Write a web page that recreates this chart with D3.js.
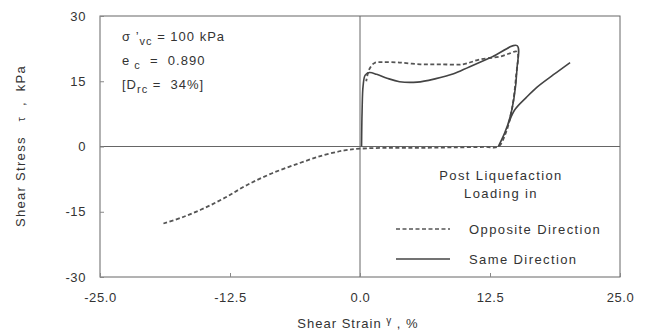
<!DOCTYPE html>
<html>
<head>
<meta charset="utf-8">
<script src="https://cdn.jsdelivr.net/npm/d3@7"></script>
<style>
  body { margin: 0; background: #fff; }
  svg text { font-family: "Liberation Sans", Arial, sans-serif; fill: #333; white-space: pre; }
</style>
</head>
<body>
<svg id="chart"></svg>
<script>
// Axis ticks
const xTicks = [-25, -12.5, 0, 12.5, 25];
const yTicks = [-30, -15, 0, 15, 30];

// Opposite direction (dashed): [strain %, stress kPa]
const oppositeDir = [
  [-18.9, -17.7], [-17, -16.2], [-15, -14.2], [-13, -11.8], [-10.9, -8.9],
  [-8.5, -6.2], [-5.8, -3.8], [-3.5, -2], [-1.5, -0.9], [0, -0.5],
  [3, -0.3], [6, -0.3], [9, -0.2], [12, -0.1], [13.3, 0], [14, 3],
  [14.6, 8.5], [15, 16], [15.1, 21.8], [14.4, 21.4], [13.5, 20.7],
  [11.5, 20], [9.9, 18.9], [7.7, 18.9], [5.8, 18.9], [3.8, 19.3],
  [2.2, 19.4], [1.4, 19.2], [0.9, 17.8], [0.6, 15]
];

// Same direction (solid)
const sameDir = [
  [0.15, 0], [0.2, 8], [0.3, 14], [0.5, 16.4], [0.9, 17], [1.6, 16.6],
  [2.6, 15.7], [3.8, 14.9], [5.5, 14.8], [7.3, 15.6], [9, 16.7],
  [10.5, 18.3], [12.7, 20.6], [15.1, 23.2], [15.1, 18], [14.8, 11],
  [14.4, 6.5], [13.9, 3], [13.3, 0], [13.8, 2.5], [14.3, 5.5],
  [14.9, 8.5], [16, 11.3], [17, 13.6], [18.6, 16.5], [20.2, 19.3]
];

const width = 648, height = 335;
const margin = { left: 100, right: 28, top: 16, bottom: 58 };

const svg = d3.select('#chart').attr('width', width).attr('height', height);

const x = d3.scaleLinear().domain([-25, 25]).range([margin.left, width - margin.right]);
const y = d3.scaleLinear().domain([-30, 30]).range([height - margin.bottom, margin.top]);

// Frame
svg.append('rect')
  .attr('x', x(-25)).attr('y', y(30))
  .attr('width', x(25) - x(-25)).attr('height', y(-30) - y(30))
  .attr('fill', 'none').attr('stroke', '#666').attr('stroke-width', 1);

// Zero lines
svg.append('line')
  .attr('x1', x(-25)).attr('x2', x(25)).attr('y1', y(0)).attr('y2', y(0))
  .attr('stroke', '#666').attr('stroke-width', 1);
svg.append('line')
  .attr('x1', x(0)).attr('x2', x(0)).attr('y1', y(30)).attr('y2', y(-30))
  .attr('stroke', '#666').attr('stroke-width', 1);

// Axes (hyphen minus like the original)
const hyph = f => d => f(d).replace('\u2212', '-');
const xAxis = svg.append('g')
  .attr('transform', `translate(0,${y(-30)})`)
  .call(d3.axisBottom(x).tickValues(xTicks).tickFormat(hyph(d3.format('.1f'))).tickSize(-4).tickPadding(16));
const yAxis = svg.append('g')
  .attr('transform', `translate(${x(-25)},0)`)
  .call(d3.axisLeft(y).tickValues(yTicks).tickFormat(hyph(d3.format('d'))).tickSize(-4).tickPadding(14));

[xAxis, yAxis].forEach(a => {
  a.select('.domain').remove();
  a.selectAll('line').attr('stroke', '#888');
  a.selectAll('text').style('font-size', '13px').style('letter-spacing', '0.6px').attr('fill', '#333');
});

// Curves
const line = d3.line().x(d => x(d[0])).y(d => y(d[1])).curve(d3.curveCatmullRom.alpha(0.5));

svg.append('path').datum(oppositeDir)
  .attr('d', line).attr('fill', 'none')
  .attr('stroke', '#555').attr('stroke-width', 1.8).attr('stroke-dasharray', '4,2.5');

svg.append('path').datum(sameDir)
  .attr('d', line).attr('fill', 'none')
  .attr('stroke', '#444').attr('stroke-width', 1.6);

// Axis titles
const yTitle = svg.append('text')
  .attr('transform', `translate(25,146) rotate(-90)`)
  .attr('text-anchor', 'middle').style('font-size', '13px').style('letter-spacing', '1.3px');
yTitle.append('tspan').text('Shear Stress   ');
yTitle.append('tspan').text('τ').style('font-size', '11px');
yTitle.append('tspan').text('  ,  kPa');

const xTitle = svg.append('text')
  .attr('x', 358).attr('y', 328)
  .attr('text-anchor', 'middle').style('font-size', '13px').style('letter-spacing', '1px');
xTitle.append('tspan').text('Shear Strain ');
xTitle.append('tspan').text('γ').style('font-size', '10px').attr('dy', -4);
xTitle.append('tspan').text(' , %').attr('dy', 4);

// Annotations
const ann = svg.append('g').style('font-size', '13px').style('letter-spacing', '1px');
const t1 = ann.append('text').attr('x', 122).attr('y', 41);
t1.append('tspan').text('σ \u2019');
t1.append('tspan').text('vc').style('font-size', '11px').attr('dy', 4);
t1.append('tspan').text(' = 100 kPa').attr('dy', -4);

const t2 = ann.append('text').attr('x', 122).attr('y', 65);
t2.append('tspan').text('e');
t2.append('tspan').text(' c').style('font-size', '11px').attr('dy', 4);
t2.append('tspan').text('  =  0.890').attr('dy', -4);

const t3 = ann.append('text').attr('x', 122).attr('y', 89);
t3.append('tspan').text('[D');
t3.append('tspan').text('rc').style('font-size', '11px').attr('dy', 4);
t3.append('tspan').text(' =  34%]').attr('dy', -4);

// Legend
const leg = svg.append('g').style('font-size', '13px').style('letter-spacing', '1.4px');
leg.append('text').attr('x', 501).attr('y', 180).attr('text-anchor', 'middle').text('Post Liquefaction');
leg.append('text').attr('x', 501).attr('y', 198).attr('text-anchor', 'middle').text('Loading in');
leg.append('line').attr('x1', 396).attr('x2', 450).attr('y1', 229).attr('y2', 229)
  .attr('stroke', '#555').attr('stroke-width', 1.3).attr('stroke-dasharray', '4,2.5');
leg.append('text').attr('x', 469).attr('y', 234).text('Opposite Direction');
leg.append('line').attr('x1', 396).attr('x2', 450).attr('y1', 259).attr('y2', 259)
  .attr('stroke', '#444').attr('stroke-width', 1.3);
leg.append('text').attr('x', 469).attr('y', 264).text('Same Direction');
</script>
</body>
</html>
